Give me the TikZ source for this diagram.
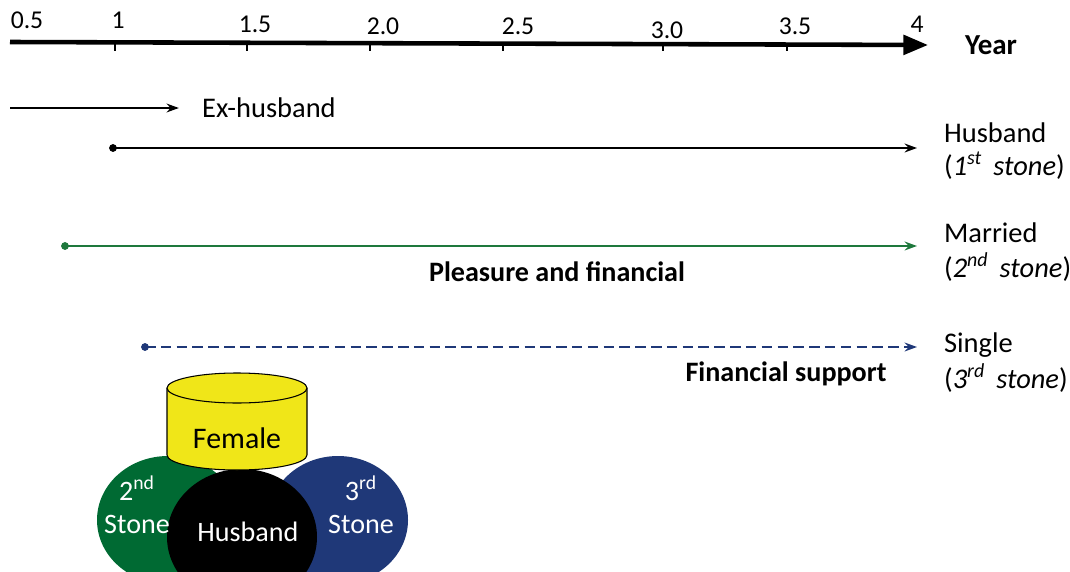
\documentclass[tikz,border=0pt]{standalone}
\usepackage{fontspec}
\setmainfont{Carlito}
\usepackage{tikz}
\usetikzlibrary{arrows.meta}
\definecolor{stonegreen}{RGB}{0,106,51}
\definecolor{stoneblue}{RGB}{31,56,120}
\definecolor{femyellow}{RGB}{240,230,24}
\definecolor{linegreen}{RGB}{30,120,60}
\tikzset{
  lbl/.style={font=\fontsize{16.2}{18}\selectfont,inner sep=1pt},
  boldlbl/.style={lbl,font=\fontsize{16}{18}\selectfont\bfseries},
  tick/.style={font=\fontsize{14.6}{16}\selectfont,inner sep=1pt},
  side/.style={lbl,anchor=west},
  period/.style={line width=1.3pt,-{Stealth[length=7pt,width=5pt]}},
  venn/.style={font=\fontsize{16}{18.5}\selectfont,text=white,align=center},
}
\begin{document}
\begin{tikzpicture}[x=0.02cm,y=-0.02cm,line join=round] % Year line with the three stones
        \useasboundingbox (0,0) rectangle (1070,571);
        \coordinate (ax0) at (10,42);
        \coordinate (ax1) at (928,45);
        \draw[line width=2.6pt,-{Triangle[length=14pt,width=11pt]}] (ax0) -- (ax1);
        \foreach \x in {115,247,370,503,663,787}
                \draw[line width=1.6pt] (\x,43) -- (\x,51);
        \node[tick] (t05) at (27,20) {0.5};
        \node[tick] (t10) at (118,20) {1};
        \node[tick] (t15) at (255,24) {1.5};
        \node[tick] (t20) at (383,26) {2.0};
        \node[tick] (t25) at (518,26) {2.5};
        \node[tick] (t30) at (667,30) {3.0};
        \node[tick] (t35) at (795,26) {3.5};
        \node[tick] (t40) at (917,24) {4};
        \node[lbl,font=\fontsize{16.5}{18}\selectfont\bfseries] (year) at (991,45) {Year};
        % ex-husband
        \coordinate (ex0) at (10,108);
        \node[lbl,anchor=west] (exh) at (200,108) {Ex-husband};
        \draw[period,shorten >=12] (ex0) -- (exh.west);
        % husband
        \coordinate (hb0) at (113,148);
        \coordinate (hb1) at (917,148);
        \draw[period] (hb0) -- (hb1);
        \filldraw (hb0) circle (3.5);
        \node[side] (hbl) at (942,133) {Husband};
        \node[side] (hbs) at (942,166) {(\textit{1\textsuperscript{st}\,~stone})};
        % married
        \coordinate (mr0) at (65,246);
        \coordinate (mr1) at (917,246);
        \draw[period,linegreen] (mr0) -- (mr1);
        \filldraw[linegreen] (mr0) circle (3.5);
        \node[boldlbl] (pls) at (557,272) {Pleasure and financial};
        \node[side] (mrl) at (942,233) {Married};
        \node[side] (mrs) at (942,267) {(\textit{2\textsuperscript{nd}\,~stone})};
        % single
        \coordinate (sg0) at (145,347);
        \coordinate (sg1) at (917,347);
        \draw[period,stoneblue,dash pattern=on 6pt off 3pt] (sg0) -- (sg1);
        \filldraw[stoneblue] (sg0) circle (3.5);
        \node[boldlbl] (fin) at (786,374) {Financial support};
        \node[side] (sgl) at (942,345) {Single};
        \node[side] (sgs) at (942,378) {(\textit{3\textsuperscript{rd}\,~stone})};
        % stones
        \begin{scope}
        \clip (0,0) rectangle (1070,571);
        \fill[stonegreen] (168,520) ellipse (71 and 64);
        \fill[stoneblue] (338,520) ellipse (70 and 64);
        \fill[black] (242,537) ellipse (75 and 68);
        \end{scope}
        \filldraw[fill=femyellow,line width=0.6pt] (167,388) -- (167,455) arc[start angle=180,end angle=0,x radius=70,y radius=15] -- (307,388) -- cycle;
        \filldraw[fill=femyellow,line width=0.6pt] (237,388) ellipse (70 and 15);
        \node[font=\fontsize{17}{19}\selectfont] (fem) at (237,438) {Female};
        \node[venn] (st2) at (137,505) {2\textsuperscript{nd}\\Stone};
        \node[venn] (hbv) at (248,532) {Husband};
        \node[venn] (st3) at (361,505) {3\textsuperscript{rd}\\Stone};
\end{tikzpicture}
\end{document}
